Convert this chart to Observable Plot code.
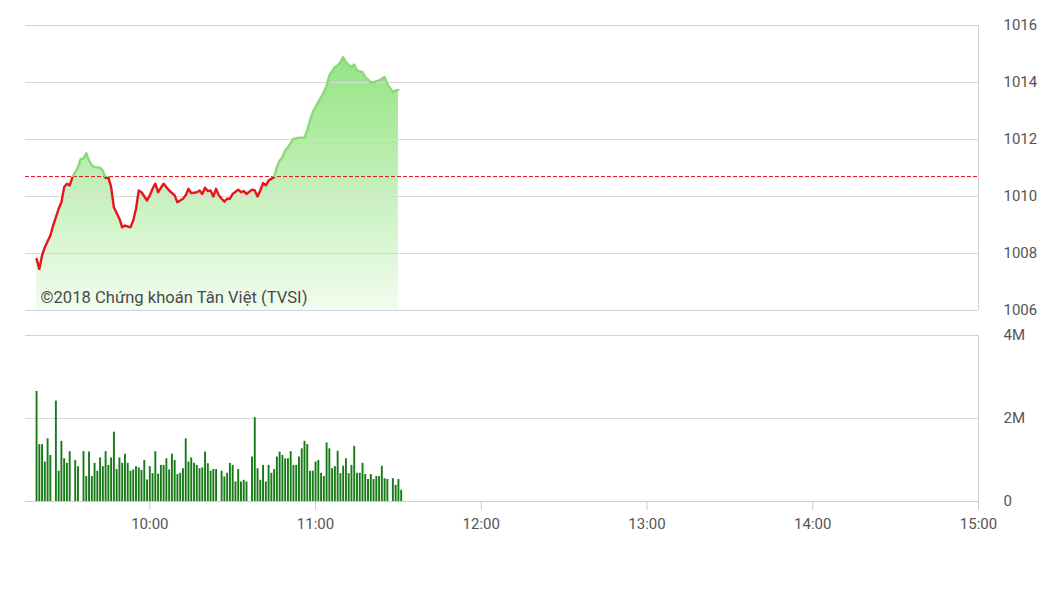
<!DOCTYPE html>
<html><head><meta charset="utf-8">
<script src="https://cdn.jsdelivr.net/npm/d3@7"></script>
<script src="https://cdn.jsdelivr.net/npm/@observablehq/plot@0.6"></script>
<style>
body{margin:0;background:#fff;font-family:Roboto,sans-serif}
#chart svg{display:block}
</style>
</head><body><div id="chart"></div>
<script>
const priceTimes = ["9:19","9:20","9:21","9:22","9:24","9:25","9:27","9:28","9:29","9:30","9:31","9:32","9:33","9:34","9:35","9:36","9:37","9:38","9:39","9:40","9:42","9:43","9:44","9:45","9:46","9:47","9:49","9:50","9:51","9:53","9:54","9:55","9:56","9:57","9:59","10:00","10:01","10:02","10:03","10:05","10:07","10:09","10:10","10:12","10:13","10:14","10:15","10:17","10:18","10:19","10:20","10:21","10:22","10:23","10:24","10:25","10:26","10:27","10:28","10:29","10:30","10:32","10:33","10:34","10:35","10:37","10:38","10:39","10:40","10:41","10:42","10:43","10:45","10:46","10:47","10:48","10:49","10:50","10:52","10:54","10:56","10:57","10:58","10:59","11:01","11:03","11:04","11:05","11:07","11:08","11:09","11:10","11:11","11:13","11:14","11:15","11:17","11:18","11:20","11:21","11:23","11:24","11:25","11:26","11:28","11:29","11:30"];
const priceValues = [1007.81,1007.46,1007.93,1008.22,1008.63,1008.98,1009.57,1009.80,1010.33,1010.45,1010.39,1010.68,1010.85,1011.03,1011.32,1011.32,1011.52,1011.26,1011.09,1011.03,1011.01,1010.91,1010.65,1010.68,1010.33,1009.62,1009.22,1008.92,1008.98,1008.92,1009.16,1009.57,1010.21,1010.15,1009.86,1010.04,1010.27,1010.45,1010.15,1010.45,1010.21,1010.04,1009.80,1009.92,1010.04,1010.27,1010.12,1010.15,1010.21,1010.09,1010.31,1010.19,1010.21,1010.00,1010.27,1010.04,1009.92,1009.82,1009.92,1009.92,1010.09,1010.24,1010.15,1010.19,1010.09,1010.24,1010.21,1010.00,1010.21,1010.47,1010.39,1010.56,1010.68,1011.03,1011.26,1011.38,1011.61,1011.73,1012.02,1012.06,1012.06,1012.32,1012.67,1012.96,1013.31,1013.66,1013.89,1014.25,1014.54,1014.60,1014.71,1014.89,1014.71,1014.54,1014.63,1014.42,1014.36,1014.19,1014.01,1014.01,1014.07,1014.13,1014.19,1013.95,1013.66,1013.72,1013.74];
const refPrice = 1010.70;

const volTimes = ["9:19","9:20","9:21","9:22","9:23","9:24","9:26","9:27","9:28","9:29","9:30","9:31","9:33","9:34","9:36","9:37","9:38","9:39","9:40","9:41","9:42","9:43","9:44","9:45","9:46","9:47","9:48","9:49","9:50","9:51","9:52","9:53","9:54","9:55","9:56","9:57","9:58","9:59","10:00","10:01","10:02","10:03","10:04","10:05","10:06","10:07","10:08","10:09","10:10","10:11","10:12","10:13","10:14","10:15","10:16","10:17","10:18","10:19","10:20","10:21","10:22","10:23","10:24","10:26","10:27","10:28","10:29","10:30","10:31","10:32","10:33","10:34","10:35","10:37","10:38","10:39","10:40","10:41","10:42","10:43","10:44","10:45","10:46","10:47","10:48","10:49","10:50","10:51","10:52","10:53","10:54","10:55","10:56","10:57","10:58","10:59","11:00","11:01","11:02","11:03","11:04","11:05","11:06","11:07","11:08","11:09","11:10","11:11","11:12","11:13","11:14","11:15","11:16","11:17","11:18","11:19","11:20","11:21","11:22","11:23","11:24","11:25","11:26","11:28","11:29","11:30","11:31"];
const volValues = [2.65,1.37,1.37,0.95,1.51,1.11,2.42,0.73,1.45,1.03,0.92,1.20,0.99,0.84,1.20,0.60,1.19,0.60,0.92,0.73,1.05,0.84,1.20,0.87,1.05,1.67,0.77,1.05,0.92,1.14,0.92,0.73,0.76,0.84,0.81,0.75,0.99,0.52,0.84,0.67,1.20,0.66,0.87,0.87,1.03,0.76,1.14,0.99,0.65,0.68,0.79,1.51,0.95,1.05,0.92,0.87,0.79,0.81,1.19,0.91,0.73,0.77,0.77,0.73,0.59,0.68,0.92,0.87,0.47,0.77,0.47,0.51,0.47,1.07,2.02,0.79,0.51,0.87,0.47,0.87,0.68,0.77,1.07,1.19,1.11,1.03,1.03,1.20,0.87,0.87,1.07,1.27,1.45,1.37,0.73,0.73,0.95,0.99,0.68,0.60,1.41,1.27,0.79,0.84,1.21,0.67,0.85,1.03,0.67,0.87,1.33,0.68,0.68,0.92,0.65,0.53,0.65,0.53,0.60,0.60,0.85,0.55,0.53,0.55,0.39,0.53,0.27];

const priceTicks = [1006,1008,1010,1012,1014,1016];
const volTicks = [0,2,4];
const volTickLabels = ["0","2M","4M"];
const timeTicks = ["10:00","11:00","12:00","13:00","14:00","15:00"];
const sessionStart = "9:15", sessionEnd = "15:00";
const caption = "©2018 Chứng khoán Tân Việt (TVSI)";

const parseT = s => { const [h,m] = s.split(":").map(Number); return new Date(2018,0,1,h,m); };
const xDomain = [parseT(sessionStart), parseT(sessionEnd)];
const price = priceTimes.map((t,i) => ({t: parseT(t), v: priceValues[i]}));
const vol = volTimes.map((t,i) => ({t: parseT(t), v: volValues[i]}));

const gridColor = "#d9d9d9", frameColor = "#cad3df", textColor = "#555";

const topH = 320;
const topPlot = Plot.plot({
  width: 1062, height: topH, marginLeft: 25, marginRight: 84, marginTop: 25, marginBottom: 10,
  style: {fontFamily: "Roboto, sans-serif", fontSize: "15px", color: textColor, background: "transparent"},
  x: {type: "time", domain: xDomain, axis: null},
  y: {domain: [1006, 1016]},
  marks: [
    Plot.areaY(price, {x: "t", y1: 1006, y2: "v", fill: "url(#areaGrad)"}),
    Plot.ruleY(priceTicks.slice(1, -1), {stroke: gridColor}),
    Plot.ruleY([priceTicks[0], priceTicks[priceTicks.length-1]], {stroke: frameColor}),
    Plot.ruleX([xDomain[1]], {stroke: frameColor}),
    Plot.ruleY([refPrice], {stroke: "#e3141b", strokeDasharray: "4,2"}),
    Plot.line(price, {x: "t", y: "v", stroke: "url(#lineGrad)", strokeWidth: 2.4}),
    Plot.axisY(priceTicks, {anchor: "right", tickSize: 0, tickPadding: 25, fill: textColor, fontSize: 15, tickFormat: d => String(d), label: null}),
    Plot.text([caption], {frameAnchor: "bottom-left", text: d => d, dx: 15, dy: -13, lineAnchor: "middle", textAnchor: "start", fontSize: 16.6, fill: "#4a4a4a"})
  ]
});

const yRef = topPlot.scale("y").apply(refPrice);
const defs = d3.select(topPlot).insert("defs", ":first-child");
const ag = defs.append("linearGradient").attr("id", "areaGrad").attr("x1", 0).attr("y1", 0).attr("x2", 0).attr("y2", 1);
ag.append("stop").attr("offset", 0).attr("stop-color", "#93e482");
ag.append("stop").attr("offset", 1).attr("stop-color", "#f2fcef");
const lg = defs.append("linearGradient").attr("id", "lineGrad").attr("gradientUnits", "userSpaceOnUse")
  .attr("x1", 0).attr("x2", 0).attr("y1", 0).attr("y2", topH);
lg.append("stop").attr("offset", yRef / topH).attr("stop-color", "#8ad97a");
lg.append("stop").attr("offset", yRef / topH).attr("stop-color", "#e8141b");

const bottomPlot = Plot.plot({
  width: 1062, height: 277, marginLeft: 25, marginRight: 84, marginTop: 15, marginBottom: 96,
  style: {fontFamily: "Roboto, sans-serif", fontSize: "15px", color: textColor, background: "transparent"},
  x: {type: "time", domain: xDomain},
  y: {domain: [0, 4]},
  marks: [
    Plot.ruleY([volTicks[1]], {stroke: gridColor}),
    Plot.ruleY([volTicks[2]], {stroke: frameColor}),
    Plot.ruleX([xDomain[1]], {stroke: frameColor}),
    Plot.ruleX(vol, {x: "t", y1: 0, y2: "v", stroke: "#177a17", strokeWidth: 1.9}),
    Plot.ruleY([0], {stroke: "#c3cfdd"}),
    Plot.axisX(timeTicks.map(parseT), {tickSize: 9, tickPadding: 8, stroke: "#c3cfdd", fill: textColor, fontSize: 15, tickFormat: d3.timeFormat("%H:%M"), label: null}),
    Plot.axisY(volTicks, {anchor: "right", tickSize: 0, tickPadding: 25, fill: textColor, fontSize: 15, tickFormat: d => volTickLabels[volTicks.indexOf(d)], label: null})
  ]
});

const chart = document.getElementById("chart");
chart.appendChild(topPlot);
chart.appendChild(bottomPlot);
</script>
</body></html>
